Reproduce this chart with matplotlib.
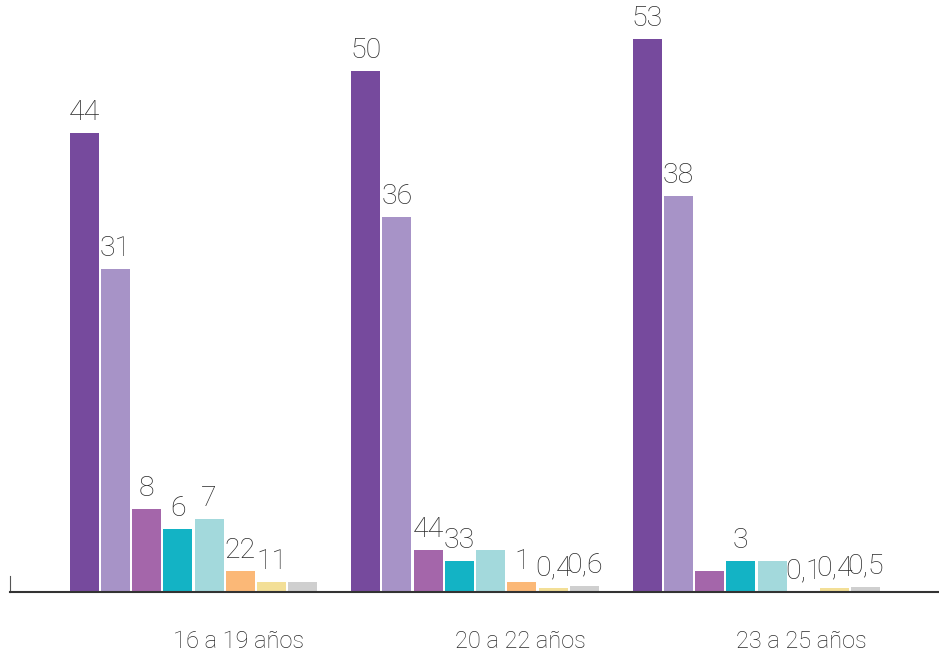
import numpy as np
import matplotlib.pyplot as plt

# data
groups = ['16 a 19 años', '20 a 22 años', '23 a 25 años']
values = [
    [44, 31, 8, 6, 7, 2, 1, 1],
    [50, 36, 4, 3, 4, 1, 0.4, 0.6],
    [53, 38, 2, 3, 3, 0.1, 0.4, 0.5],
]
# value labels exactly as they appear in the picture
labels = [
    ['44', '31', '8', '6', '7', '22', '11', ''],
    ['50', '36', '44', '33', '', '1', '0,4', '0,6'],
    ['53', '38', '', '3', '', '0,1', '0,4', '0,5'],
]
colors = ['#764a9d', '#a793c7', '#a466aa', '#13b3c5', '#a3d9dc',
          '#fbb877', '#f3df97', '#cfcfcf']

plt.rcParams['font.family'] = ['Roboto', 'DejaVu Sans']

fig = plt.figure(figsize=(9.39, 6.53), dpi=100)
ax = fig.add_axes([10/939, 61/653, 928/939, 592/653])

pitch = 0.111
width = 0.103
x = np.arange(len(groups))
for k in range(8):
    vals = [values[g][k] for g in range(3)]
    pos = x + (k - 3.5) * pitch
    bars = ax.bar(pos, vals, width=width, color=colors[k], linewidth=0)
    for g, b in enumerate(bars):
        ax.annotate(labels[g][k], (b.get_x() + b.get_width() / 2, b.get_height()),
                    xytext=(0, 5), textcoords='offset points',
                    ha='center', va='bottom', fontsize=20.5, fontweight='light',
                    color='#2b2b2b')

ax.set_xlim(-0.652, 2.645)
ax.set_ylim(0, 56.76)

for s in ['top', 'right']:
    ax.spines[s].set_visible(False)
ax.spines['bottom'].set_color('#333333')
ax.spines['bottom'].set_linewidth(1.5)
ax.spines['left'].set_color('#555555')
ax.spines['left'].set_bounds(0, 1.5)
ax.set_yticks([])

ax.set_xticks(x + 0.16)
ax.set_xticklabels(groups, fontsize=17, fontweight='light', color='#2b2b2b')
ax.tick_params(axis='x', length=0, pad=27)

fig.savefig('out.png', dpi=100)
